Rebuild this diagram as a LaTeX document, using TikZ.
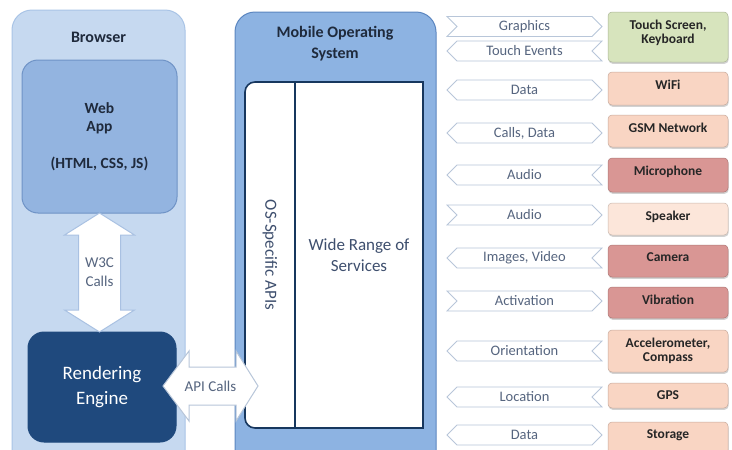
\documentclass[tikz,border=0pt]{standalone}
\usepackage{fontspec}
\setmainfont{Carlito}
\usetikzlibrary{positioning,calc,shapes.symbols,shadows}

\definecolor{browserbg}{HTML}{C6D9F0}
\definecolor{browserln}{HTML}{A9C4E6}
\definecolor{appbg}{HTML}{93B4E0}
\definecolor{appln}{HTML}{6F93C6}
\definecolor{enginebg}{HTML}{1F497D}
\definecolor{osbg}{HTML}{8DB3E2}
\definecolor{osln}{HTML}{5B86C0}
\definecolor{navy}{HTML}{17375E}
\definecolor{titletx}{HTML}{1F2A3C}
\definecolor{calltx}{HTML}{56657F}
\definecolor{svctx}{HTML}{3E4F6E}
\definecolor{chevln}{HTML}{B8C6D9}
\definecolor{fatln}{HTML}{A9C1E2}
\definecolor{devgreen}{HTML}{D7E4BD}
\definecolor{devpeach}{HTML}{F9D5C3}
\definecolor{devpale}{HTML}{FCE6DA}
\definecolor{devred}{HTML}{D99694}
\definecolor{devtx}{HTML}{262626}

\begin{document}
\begin{tikzpicture}[
  x=1pt, y=-1pt,
  every node/.style={inner sep=0pt, outer sep=0pt},
  panel/.style={draw, line width=1pt, rounded corners=20pt, anchor=north west},
  title/.style={font=\fontsize{16}{21}\selectfont\bfseries, text=titletx, align=center},
  fatarrow/.style={draw=fatln, fill=white, line width=1pt, line join=miter},
  calls/.style={font=\fontsize{15}{19}\selectfont, text=calltx, align=center},
  chevron/.style={shape=signal, draw=chevln, fill=white, line width=0.8pt,
    minimum width=155pt, minimum height=20pt,
    font=\fontsize{14.5}{16}\selectfont, text=calltx},
  toright/.style={chevron, signal to=east, signal from=west},
  toleft/.style={chevron, signal to=west, signal from=east},
  toboth/.style={chevron, signal to=west and east},
  devbox/.style={draw=#1!80!black, fill=#1, line width=0.5pt, rounded corners=4pt,
    anchor=north, minimum width=120pt,
    drop shadow={shadow xshift=0.6pt, shadow yshift=-1.8pt, opacity=0.35}},
  devtext/.style={font=\fontsize{13.5}{14.5}\selectfont\bfseries, text=devtx, align=center},
  ]
  \useasboundingbox (0,0) rectangle (732,450);
  \clip (0,0) rectangle (732,450);
  \fill[white] (0,0) rectangle (732,450);

  \node[panel, draw=browserln, fill=browserbg, minimum width=173pt, minimum height=470pt]
    (browser) at (12,10) {};
  \node[title] (browsertitle) at (98.5,37) {Browser};
  \node[panel, rounded corners=16pt, draw=appln, fill=appbg, minimum width=155pt,
    minimum height=153pt, font=\fontsize{15.5}{18}\selectfont\bfseries, text=titletx, align=center]
    (app) at (22,60) {Web\\App\\[19pt](HTML, CSS, JS)};
  \node[panel, rounded corners=16pt, draw=enginebg, fill=enginebg, minimum width=148pt,
    minimum height=110pt, font=\fontsize{19}{25}\selectfont, text=white, align=center]
    (engine) at (28,332) {Rendering\\Engine};

  \node[panel, draw=osln, fill=osbg, minimum width=201pt, minimum height=470pt]
    (os) at (235,12) {};
  \node[title] (ostitle) at (335,44) {Mobile Operating\\System};
  \node[draw=navy, line width=1.6pt, fill=white, rounded corners=10pt, anchor=north west,
    minimum width=178pt, minimum height=346pt] (inner) at (245,82) {};
  \node[draw=navy, line width=1.6pt, fill=white, anchor=north west, minimum width=128pt,
    minimum height=346pt, font=\fontsize{17}{21}\selectfont, text=svctx, align=center]
    (services) at (295,82) {Wide Range of\\Services};
  \node[rotate=-90, font=\fontsize{17}{20}\selectfont, text=svctx]
    (apis) at ($(inner.west)!0.5!(services.west)$) {OS-Specific APIs};

  \draw[fatarrow] (app.south) -- ++(35,22) -- ++(-14,0)
    -- ($(app.south |- engine.north)+(21,-22)$) -- ++(14,0) -- (app.south |- engine.north)
    -- ++(-35,-22) -- ++(14,0) -- ($(app.south)+(-21,22)$) -- ++(-14,0) -- cycle;
  \node[calls] (w3c) at ($(app.south)!0.5!(app.south |- engine.north)$) {W3C\\Calls};

  \coordinate (apil) at (163,386);
  \coordinate (apir) at (258,386);
  \draw[fatarrow, draw=chevln] (apil) -- ++(26,-35) -- ++(0,16) -- ($(apir)+(-22,-19)$)
    -- ++(0,-16) -- (apir) -- ++(-22,35) -- ++(0,-16) -- ($(apil)+(26,19)$)
    -- ++(0,16) -- cycle;
  \node[calls] (api) at ($(apil)!0.5!(apir)$) {API Calls};

  \foreach \n/\yy/\s/\t in {
    graphics/26.5/toright/Graphics,
    touch/51/toleft/Touch Events,
    wifidata/90/toboth/Data,
    gsmdata/133/toboth/{Calls, Data},
    micaudio/175/toleft/Audio,
    spkaudio/215/toright/Audio,
    images/258/toleft/{Images, Video},
    activation/301/toright/Activation,
    orientation/351/toleft/Orientation,
    location/397/toleft/Location,
    storedata/435/toboth/Data}{
    \node[\s] (\n) at (524.5,\yy) {\t};
  }

  \foreach \n/\yy/\h/\c/\t in {
    screen/12/50/devgreen/{Touch Screen,\\Keyboard},
    wifi/72/33/devpeach/WiFi,
    gsm/115/32/devpeach/GSM Network,
    mic/158/34/devred/Microphone,
    speaker/203/32/devpale/Speaker,
    camera/245/32/devred/Camera,
    vibration/287/31/devred/Vibration,
    accel/330/42/devpeach/{Accelerometer,\\Compass},
    gps/383/25/devpeach/GPS,
    storage/422/32/devpeach/Storage}{
    \node[devbox=\c, minimum height=\h] (\n) at (668,\yy) {};
    \node[devtext, below=8pt of \n.north] (\n-t) {\t};
  }
\end{tikzpicture}
\end{document}
